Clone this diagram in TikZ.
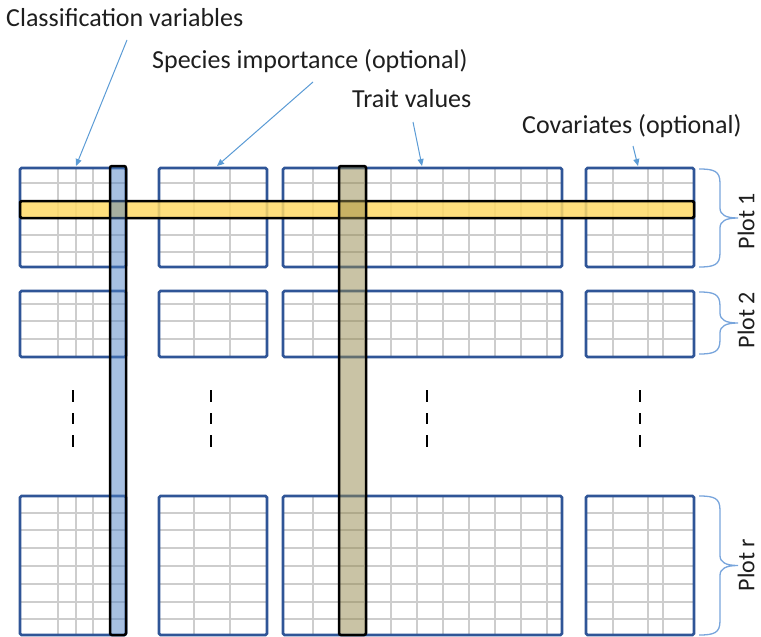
\documentclass[tikz,border=0pt]{standalone}
\usepackage{fontspec}
\setmainfont{Carlito}
\usetikzlibrary{arrows.meta}
\definecolor{blockblue}{RGB}{47,85,151}
\definecolor{gridgray}{RGB}{205,205,205}
\definecolor{arrowblue}{RGB}{91,155,213}
\definecolor{bracecol}{RGB}{120,165,220}
\definecolor{yellowbar}{RGB}{255,217,102}
\definecolor{bluebar}{RGB}{79,129,195}
\definecolor{tanbar}{RGB}{147,135,75}
\definecolor{txt}{RGB}{30,30,30}
\tikzset{
 gridline/.style={draw=gridgray, line width=1.1pt},
 blockframe/.style={draw=blockblue, line width=2.6pt, rounded corners=1.5pt},
 rowbar/.style={draw=black, line width=2.5pt, fill=yellowbar, fill opacity=0.85, rounded corners=1.5pt},
 colbar/.style={draw=black, line width=2.5pt, fill opacity=0.5, rounded corners=2pt},
 pointer/.style={draw=arrowblue, line width=1pt, -{Triangle[length=7pt,width=6pt]}},
 plotbrace/.style={draw=bracecol, line width=1.3pt},
 toplabel/.style={font=\fontsize{26}{31}\selectfont, text=txt, inner sep=0pt, anchor=base west},
 plotlabel/.style={font=\fontsize{24}{29}\selectfont, text=txt, inner sep=0pt, rotate=90},
 vdash/.style={draw=black, line width=2.4pt},
}
\newcommand\gridblock[6]{%
 \foreach \gx in {#5} \draw[gridline] (\gx,#2) -- (\gx,#4);
 \foreach \gy in {#6} \draw[gridline] (#1,\gy) -- (#3,\gy);
 \draw[blockframe] (#1,#2) rectangle (#3,#4);
}
\newcommand\plotbr[2]{%
 \pgfmathsetmacro\bmid{(#1+#2)/2}
 \draw[plotbrace] (699,#1) .. controls (714,#1) and (720,#1+2) .. (720,#1+14)
   -- (720,\bmid-10) .. controls (720,\bmid-3) and (726,\bmid) .. (738,\bmid)
   .. controls (726,\bmid) and (720,\bmid+3) .. (720,\bmid+10)
   -- (720,#2-14) .. controls (720,#2-2) and (714,#2) .. (699,#2);
}
\begin{document}
\begin{tikzpicture}[x=1pt,y=-1pt]
\useasboundingbox (0,0) rectangle (761,637);
% plot 1
\gridblock{20}{168}{126}{267}{58,76,93,110}{183,201,218,235,252}
\gridblock{159}{168}{267}{267}{194,230}{183,201,218,235,252}
\gridblock{283}{168}{562}{267}{313,339,365,391,417,443,469,495,521,547}{183,201,218,235,252}
\gridblock{586}{168}{694}{267}{613,648,663}{183,201,218,235,252}
% plot 2
\gridblock{20}{291}{126}{357}{58,76,93,110}{304,321,339}
\gridblock{159}{291}{267}{357}{194,230}{304,321,339}
\gridblock{283}{291}{562}{357}{313,339,365,391,417,443,469,495,521,547}{304,321,339}
\gridblock{586}{291}{694}{357}{613,648,663}{304,321,339}
% plot r
\gridblock{20}{496}{126}{635}{58,76,93,110}{513,530,548,566,584,602,619}
\gridblock{159}{496}{267}{635}{194,230}{513,530,548,566,584,602,619}
\gridblock{283}{496}{562}{635}{313,339,365,391,417,443,469,495,521,547}{513,530,548,566,584,602,619}
\gridblock{586}{496}{694}{635}{613,648,663}{513,530,548,566,584,602,619}
% dashes
\foreach \dx in {73,211,427,640}{
  \draw[vdash] (\dx,390) -- (\dx,402);
  \draw[vdash] (\dx,413) -- (\dx,424);
  \draw[vdash] (\dx,435) -- (\dx,447);
}
% highlight bars
\draw[rowbar] (20,201) rectangle (694,218);
\draw[colbar, fill=bluebar] (110,166) rectangle (126,635);
\draw[colbar, fill=tanbar] (339,166) rectangle (366,635);
% labels
\node[toplabel] (cls) at (6,26) {Classification variables};
\node[toplabel] (spi) at (152,68) {Species importance (optional)};
\node[toplabel] (trv) at (352,107) {Trait values};
\node[toplabel] (cov) at (522,133) {Covariates (optional)};
\coordinate (clsA) at (127,40);  \coordinate (clsB) at (76,166);
\coordinate (spiA) at (313,82);  \coordinate (spiB) at (217,166);
\coordinate (trvA) at (413,122); \coordinate (trvB) at (422,166);
\coordinate (covA) at (633,146); \coordinate (covB) at (638,166);
\draw[pointer] (clsA) -- (clsB);
\draw[pointer] (spiA) -- (spiB);
\draw[pointer] (trvA) -- (trvB);
\draw[pointer] (covA) -- (covB);
% braces
\plotbr{169}{267}
\plotbr{292}{354}
\plotbr{496}{635}
\node[plotlabel] (p1) at (746,221) {Plot 1};
\node[plotlabel] (p2) at (746,320) {Plot 2};
\node[plotlabel] (pr) at (746,565) {Plot r};
\end{tikzpicture}
\end{document}
